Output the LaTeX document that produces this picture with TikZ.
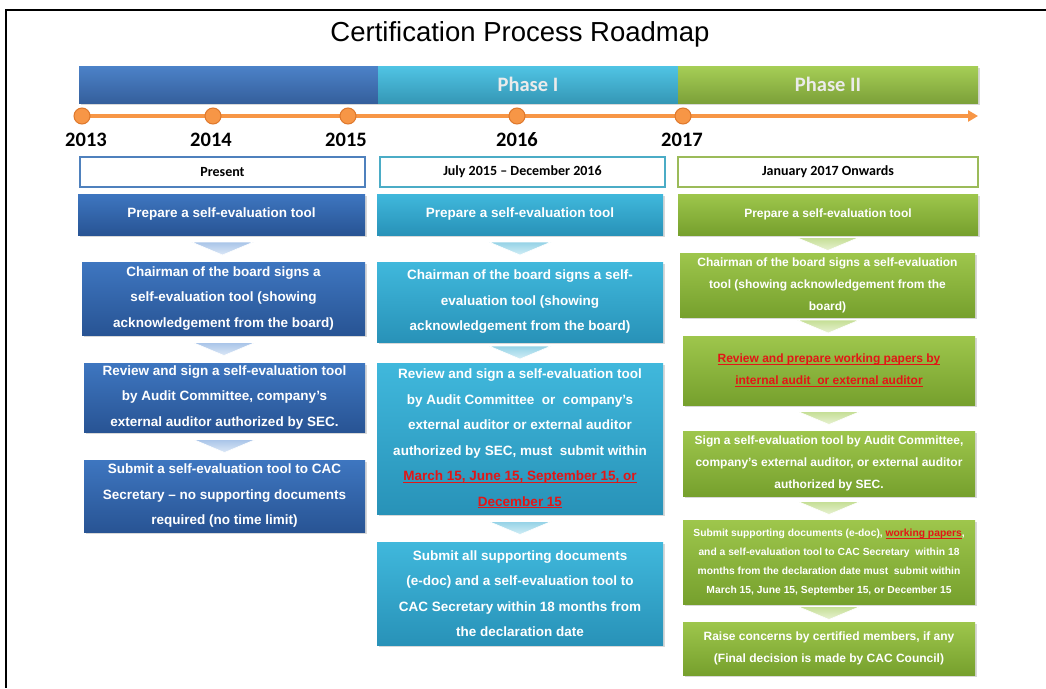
\documentclass[tikz,border=0pt]{standalone}
\usepackage{fontspec}
\setmainfont{Liberation Sans}
\newfontfamily\calibri[Ligatures=TeX]{Carlito}
\usepackage{tikz}
\usetikzlibrary{shapes.geometric, arrows, arrows.meta, calc, shadows}
\definecolor{barBlue}{RGB}{62,112,184}
\definecolor{barCyan}{RGB}{62,178,214}
\definecolor{barGreen}{RGB}{146,189,67}
\definecolor{lineBlue}{RGB}{79,129,189}
\definecolor{lineCyan}{RGB}{75,172,198}
\definecolor{lineGreen}{RGB}{155,187,89}
\definecolor{tlOrange}{RGB}{247,150,70}
\definecolor{dotEdge}{RGB}{222,120,44}
\definecolor{alertRed}{RGB}{226,22,22}
\tikzstyle{phaseBar} = [rectangle, minimum height=37pt, inner sep=0pt, text=white!92!black, font=\calibri\bfseries\fontsize{20.5}{24}\selectfont, drop shadow={shadow xshift=1.5pt, shadow yshift=-1.5pt, opacity=0.3}]
\tikzstyle{periodNode} = [rectangle, minimum height=30pt, inner sep=0pt, fill=white, line width=1.8pt, font=\calibri\bfseries\fontsize{14}{16}\selectfont]
\tikzstyle{yearDot} = [circle, minimum size=16pt, inner sep=0pt, fill=tlOrange, draw=dotEdge, line width=1pt]
\tikzstyle{yearLabel} = [inner sep=0pt, font=\calibri\bfseries\fontsize{20.5}{24}\selectfont]
\tikzstyle{timeLine} = [line width=4pt, tlOrange, -{Triangle[length=10pt, width=11pt]}]
\tikzstyle{stepBox} = [rectangle, inner sep=2pt, align=center, text=white, font=\bfseries\fontsize{13.5}{25.5}\selectfont, drop shadow={shadow xshift=1.5pt, shadow yshift=-1.5pt, opacity=0.3}]
\tikzstyle{stepBlue} = [stepBox, top color={rgb,255:red,62;green,118;blue,192}, bottom color={rgb,255:red,40;green,84;blue,148}]
\tikzstyle{stepCyan} = [stepBox, top color={rgb,255:red,64;green,184;blue,220}, bottom color={rgb,255:red,40;green,146;blue,184}]
\tikzstyle{stepGreen} = [stepBox, top color={rgb,255:red,158;green,198;blue,76}, bottom color={rgb,255:red,118;green,160;blue,45}, font=\bfseries\fontsize{12}{22}\selectfont]
\tikzstyle{chevBlue} = [top color={rgb,255:red,168;green,196;blue,232}, bottom color={rgb,255:red,220;green,232;blue,247}, draw=white, line width=0.6pt]
\tikzstyle{chevCyan} = [top color={rgb,255:red,148;green,210;blue,230}, bottom color={rgb,255:red,210;green,238;blue,246}, draw=white, line width=0.6pt]
\tikzstyle{chevGreen} = [top color={rgb,255:red,196;green,222;blue,148}, bottom color={rgb,255:red,232;green,242;blue,210}, draw=white, line width=0.6pt]
\newcommand{\chevron}[3]{\path [#1] ($(#2.south)!0.5!(#3.north)$) ++(-31,-6.5) -- ++(62,0) -- ++(-31,13) -- cycle;}
\newcommand{\redul}[1]{{\color{alertRed}\setbox0\hbox{#1}\rlap{\rule[-2.2pt]{\wd0}{0.8pt}}\box0}}

\begin{document}
\begin{tikzpicture}[x=1pt, y=-1pt]
    \useasboundingbox (0,0) rectangle (1046,688);
    \fill [white] (0,0) rectangle (1046,688);
    \draw [line width=2pt] (1046,10) -- (6,10) -- (6,688);
    \node (title) [font=\fontsize{27.5}{32}\selectfont] at (520,34) {Certification Process Roadmap};
    % Phase bar
    \node (bar0) [phaseBar, minimum width=299pt, top color={rgb,255:red,76;green,130;blue,200}, bottom color=barBlue!85!black] at (228.5,84.5) {};
    \node (bar1) [phaseBar, minimum width=300pt, top color={rgb,255:red,80;green,196;blue,228}, bottom color=barCyan!85!black] at (528,84.5) {Phase I};
    \node (bar2) [phaseBar, minimum width=300pt, top color={rgb,255:red,166;green,206;blue,86}, bottom color=barGreen!85!black] at (828,84.5) {Phase II};
    % Timeline
    \coordinate (t2013) at (82,116);
    \coordinate (t2014) at (213,116);
    \coordinate (t2015) at (348,116);
    \coordinate (t2016) at (517,116);
    \coordinate (t2017) at (683,116);
    \coordinate (tlEnd) at (978,116);
    \draw [timeLine] (t2013) -- (tlEnd);
    \node (dot2013) [yearDot] at (t2013) {};
    \node (dot2014) [yearDot] at (t2014) {};
    \node (dot2015) [yearDot] at (t2015) {};
    \node (dot2016) [yearDot] at (t2016) {};
    \node (dot2017) [yearDot] at (t2017) {};
    \node (yr2013) [yearLabel] at (86,140) {2013};
    \node (yr2014) [yearLabel] at (211,140) {2014};
    \node (yr2015) [yearLabel] at (346,140) {2015};
    \node (yr2016) [yearLabel] at (517,140) {2016};
    \node (yr2017) [yearLabel] at (682,140) {2017};
    % Periods
    \node (per0) [periodNode, draw=lineBlue, minimum width=285pt] at (222.5,172) {Present};
    \node (per1) [periodNode, draw=lineCyan, minimum width=285pt] at (522.5,172) {July 2015 \textendash\ December 2016};
    \node (per2) [periodNode, draw=lineGreen, minimum width=300pt] at (828,172) {January 2017 Onwards};
    % Present
    \node (p0s1) [stepBlue, minimum width=287pt, minimum height=41pt] at (221.5,214.5) {Prepare a self-evaluation tool};
    \node (p0s2) [stepBlue, minimum width=283pt, minimum height=73pt] at (223.5,298.5) {Chairman of the board signs a\\self-evaluation tool (showing\\acknowledgement from the board)};
    \node (p0s3) [stepBlue, minimum width=281pt, minimum height=69pt] at (224.5,397.5) {Review and sign a self-evaluation tool\\by Audit Committee, company's\\external auditor authorized by SEC.};
    \node (p0s4) [stepBlue, minimum width=281pt, minimum height=72pt] at (224.5,496) {Submit a self-evaluation tool to CAC\\Secretary \textendash\ no supporting documents\\required (no time limit)};
    % Phase I
    \node (p1s1) [stepCyan, minimum width=286pt, minimum height=41pt] at (520,214.5) {Prepare a self-evaluation tool};
    \node (p1s2) [stepCyan, minimum width=286pt, minimum height=80pt] at (520,302) {Chairman of the board signs a self-\\evaluation tool (showing\\acknowledgement from the board)};
    \node (p1s3) [stepCyan, minimum width=286pt, minimum height=151pt] at (520,438.5) {Review and sign a self-evaluation tool\\by Audit Committee \ or \ company's\\external auditor or external auditor\\authorized by SEC, must \ submit within\\\redul{March 15, June 15, September 15, or}\\\redul{December 15}};
    \node (p1s4) [stepCyan, minimum width=286pt, minimum height=103pt] at (520,593.5) {Submit all supporting documents\\(e-doc) and a self-evaluation tool to\\CAC Secretary within 18 months from\\the declaration date};
    % Phase II
    \node (p2s1) [stepGreen, minimum width=300pt, minimum height=41pt] at (828,214.5) {Prepare a self-evaluation tool};
    \node (p2s2) [stepGreen, minimum width=295pt, minimum height=64pt] at (827.5,285) {Chairman of the board signs a self-evaluation\\tool (showing acknowledgement from the\\board)};
    \node (p2s3) [stepGreen, minimum width=292pt, minimum height=69pt] at (829,370.5) {\redul{Review and prepare working papers by}\\\redul{internal audit \ or external auditor}};
    \node (p2s4) [stepGreen, minimum width=292pt, minimum height=65pt] at (829,463.5) {Sign a self-evaluation tool by Audit Committee,\\company's external auditor, or external auditor\\authorized by SEC.};
    \node (p2s5) [stepGreen, minimum width=292pt, minimum height=84pt, font=\bfseries\fontsize{10.3}{19}\selectfont] at (829,562) {Submit supporting documents (e-doc), \redul{working papers},\\and a self-evaluation tool to CAC Secretary \ within 18\\months from the declaration date must \ submit within\\March 15, June 15, September 15, or December 15};
    \node (p2s6) [stepGreen, minimum width=292pt, minimum height=53pt] at (829,648.5) {Raise concerns by certified members, if any\\(Final decision is made by CAC Council)};

    \chevron{chevBlue}{p0s1}{p0s2}
    \chevron{chevBlue}{p0s2}{p0s3}
    \chevron{chevBlue}{p0s3}{p0s4}
    %
    \chevron{chevCyan}{p1s1}{p1s2}
    \chevron{chevCyan}{p1s2}{p1s3}
    \chevron{chevCyan}{p1s3}{p1s4}
    %
    \chevron{chevGreen}{p2s1}{p2s2}
    \chevron{chevGreen}{p2s2}{p2s3}
    \chevron{chevGreen}{p2s3}{p2s4}
    \chevron{chevGreen}{p2s4}{p2s5}
    \chevron{chevGreen}{p2s5}{p2s6}

\end{tikzpicture}
\end{document}
